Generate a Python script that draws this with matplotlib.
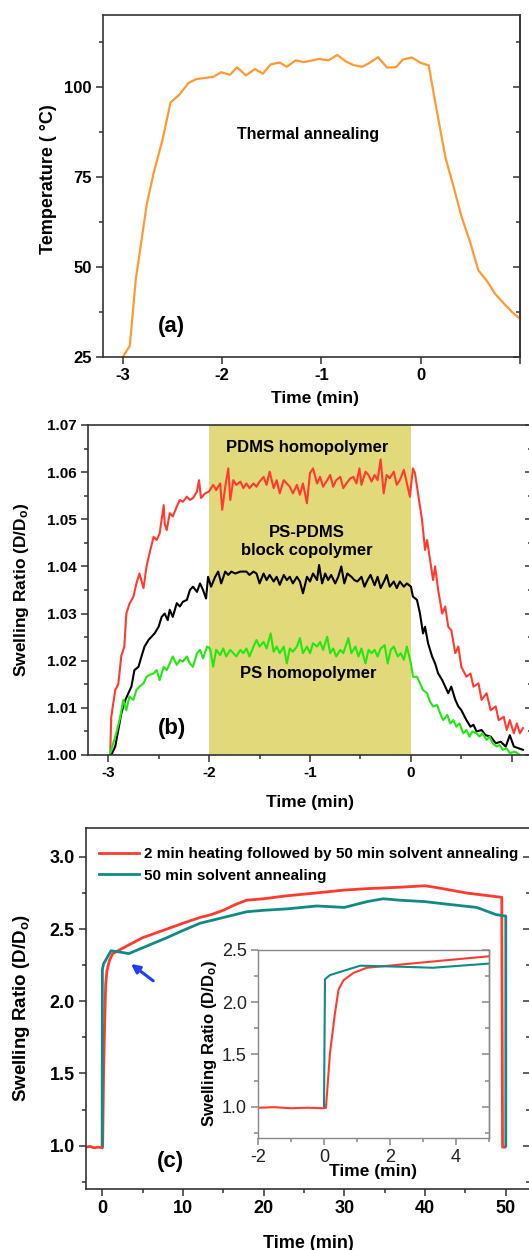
import matplotlib
matplotlib.use("Agg")
import matplotlib.pyplot as plt
from matplotlib.ticker import MultipleLocator, FormatStrFormatter

# ---------------- data ----------------
# (a) temperature
temp_t = [-3.0, -2.93, -2.87, -2.76, -2.69, -2.60, -2.52, -2.43, -2.34, -2.26,
          -2.09, -2.01, -1.92, -1.85, -1.76, -1.67, -1.59, -1.51, -1.42, -1.35,
          -1.26, -1.18, -1.02, -0.93, -0.84, -0.76, -0.68, -0.59, -0.51, -0.43,
          -0.34, -0.25, -0.18, -0.09, 0.0, 0.08, 0.16, 0.25, 0.33, 0.41,
          0.50, 0.58, 0.67, 0.75, 0.84, 0.92, 1.0]
temp_v = [25.0, 28.1, 46.5, 67.3, 76.1, 85.4, 95.7, 97.9, 101.1, 102.2,
          102.8, 104.1, 103.4, 105.5, 103.2, 105.0, 103.7, 106.3, 106.8, 105.6,
          107.4, 106.9, 107.8, 107.4, 108.9, 107.2, 106.1, 105.6, 106.8, 108.3,
          105.4, 105.5, 107.6, 108.2, 106.7, 106.0, 93.7, 80.3, 72.4, 64.1,
          56.7, 49.1, 46.0, 42.5, 39.8, 37.5, 35.6]

# (b) PDMS homopolymer (red)
pdms_t = [-2.98, -2.97, -2.93, -2.90, -2.87, -2.84, -2.82, -2.79, -2.75, -2.72,
          -2.69, -2.65, -2.62, -2.59, -2.55, -2.52, -2.49, -2.45, -2.44, -2.42,
          -2.39, -2.36, -2.32, -2.29, -2.26, -2.22, -2.19, -2.16, -2.12, -2.10,
          -2.08, -2.04, -2.00, -1.96, -1.93, -1.89, -1.87, -1.84, -1.81, -1.79,
          -1.76, -1.73, -1.69, -1.66, -1.63, -1.60, -1.56, -1.53, -1.50, -1.46,
          -1.43, -1.40, -1.36, -1.33, -1.30, -1.26, -1.23, -1.20, -1.17, -1.13,
          -1.10, -1.07, -1.03, -1.00, -0.97, -0.93, -0.90, -0.87, -0.83, -0.80,
          -0.77, -0.74, -0.70, -0.67, -0.64, -0.60, -0.57, -0.54, -0.51, -0.49,
          -0.45, -0.42, -0.39, -0.36, -0.33, -0.30, -0.27, -0.24, -0.21, -0.17,
          -0.14, -0.11, -0.07, -0.04, -0.01, 0.02, 0.04, 0.08, 0.11, 0.14,
          0.16, 0.19, 0.22, 0.24, 0.27, 0.31, 0.34, 0.37, 0.40, 0.44,
          0.47, 0.50, 0.55, 0.59, 0.62, 0.67, 0.70, 0.75, 0.79, 0.84,
          0.87, 0.92, 0.95, 0.98, 1.02, 1.05, 1.08, 1.11]
pdms_v = [1.000, 1.008, 1.0138, 1.015, 1.021, 1.023, 1.030, 1.032, 1.0336, 1.0364,
          1.0385, 1.0354, 1.040, 1.0428, 1.0463, 1.0456, 1.047, 1.053, 1.049, 1.0477,
          1.0513, 1.0506, 1.0527, 1.0541, 1.0537, 1.0548, 1.0541, 1.0545, 1.0559, 1.0583,
          1.0545, 1.0555, 1.0559, 1.0573, 1.0562, 1.0576, 1.052, 1.0569, 1.0608, 1.0541,
          1.0583, 1.0573, 1.058, 1.0566, 1.0576, 1.0566, 1.0576, 1.0569, 1.058, 1.059,
          1.0573, 1.0601, 1.0566, 1.0583, 1.0555, 1.0583, 1.0576, 1.0569, 1.0555, 1.0573,
          1.0552, 1.0576, 1.0534, 1.0598, 1.0608, 1.0576, 1.059, 1.0569, 1.0583, 1.0594,
          1.0569, 1.0583, 1.059, 1.0566, 1.0576, 1.0587, 1.059, 1.0576, 1.0608, 1.0573,
          1.0601, 1.0594, 1.058, 1.0594, 1.0583, 1.0627, 1.0555, 1.0594, 1.0587, 1.0601,
          1.0573, 1.0583, 1.0605, 1.0576, 1.0548, 1.0608, 1.0598, 1.0541, 1.0499, 1.0435,
          1.0456, 1.0414, 1.0371, 1.040, 1.035, 1.030, 1.0315, 1.0272, 1.0265, 1.0216,
          1.023, 1.0187, 1.0166, 1.0173, 1.0145, 1.0152, 1.0117, 1.0131, 1.0095, 1.0103,
          1.0074, 1.0081, 1.0053, 1.0074, 1.0046, 1.0067, 1.0046, 1.0057]

# (b) PS-PDMS block copolymer (black)
bcp_t = [-2.97, -2.93, -2.90, -2.87, -2.83, -2.80, -2.77, -2.74, -2.70, -2.67,
         -2.64, -2.60, -2.57, -2.54, -2.50, -2.47, -2.44, -2.41, -2.39, -2.36,
         -2.32, -2.29, -2.26, -2.22, -2.19, -2.16, -2.12, -2.09, -2.06, -2.03,
         -2.01, -1.98, -1.94, -1.91, -1.88, -1.84, -1.81, -1.78, -1.74, -1.69,
         -1.63, -1.60, -1.56, -1.53, -1.50, -1.46, -1.43, -1.40, -1.36, -1.33,
         -1.30, -1.26, -1.23, -1.20, -1.17, -1.13, -1.10, -1.07, -1.03, -1.00,
         -0.97, -0.93, -0.91, -0.88, -0.85, -0.82, -0.79, -0.75, -0.72, -0.69,
         -0.66, -0.63, -0.59, -0.56, -0.53, -0.49, -0.46, -0.43, -0.40, -0.36,
         -0.33, -0.30, -0.26, -0.24, -0.21, -0.17, -0.14, -0.11, -0.07, -0.04,
         0.00, 0.02, 0.06, 0.09, 0.12, 0.14, 0.17, 0.21, 0.24, 0.27,
         0.31, 0.34, 0.37, 0.40, 0.44, 0.47, 0.50, 0.55, 0.59, 0.62,
         0.65, 0.70, 0.74, 0.79, 0.84, 0.89, 0.94, 0.98, 1.02, 1.07,
         1.11]
bcp_v = [1.000, 1.0018, 1.0053, 1.0088, 1.0117, 1.0131, 1.0145, 1.018, 1.0187, 1.0209,
         1.023, 1.0244, 1.0251, 1.0258, 1.0272, 1.0293, 1.030, 1.0286, 1.0308, 1.0293,
         1.0322, 1.0315, 1.0325, 1.0329, 1.035, 1.0357, 1.0346, 1.0364, 1.035, 1.0332,
         1.0378, 1.0357, 1.0378, 1.0389, 1.0364, 1.0389, 1.0382, 1.0389, 1.0385, 1.0389,
         1.0389, 1.0382, 1.0389, 1.0385, 1.0364, 1.0385, 1.0371, 1.0382, 1.0368, 1.0378,
         1.0361, 1.0382, 1.0371, 1.0378, 1.0364, 1.0378, 1.0368, 1.0343, 1.0378, 1.0368,
         1.0385, 1.0371, 1.0403, 1.0364, 1.0385, 1.0371, 1.0382, 1.0364, 1.0378, 1.040,
         1.0364, 1.0385, 1.0378, 1.0371, 1.0368, 1.0378, 1.0357, 1.0371, 1.0382, 1.036,
         1.0378, 1.0354, 1.0371, 1.0382, 1.0357, 1.0368, 1.0354, 1.0368, 1.0357, 1.0364,
         1.0357, 1.0336, 1.0329, 1.030, 1.0258, 1.0272, 1.0237, 1.0209, 1.0194, 1.0173,
         1.0159, 1.0145, 1.0131, 1.0145, 1.0117, 1.0103, 1.0095, 1.0074, 1.006, 1.0064,
         1.005, 1.0053, 1.0042, 1.0039, 1.0025, 1.0028, 1.0018, 1.0042, 1.0018, 1.0014,
         1.0011]

# (b) PS homopolymer (green)
ps_t = [-2.98, -2.95, -2.92, -2.88, -2.85, -2.82, -2.79, -2.75, -2.72, -2.69,
        -2.65, -2.62, -2.59, -2.55, -2.52, -2.49, -2.45, -2.42, -2.39, -2.36,
        -2.32, -2.29, -2.26, -2.22, -2.19, -2.16, -2.12, -2.09, -2.06, -2.02,
        -1.99, -1.96, -1.93, -1.89, -1.86, -1.83, -1.79, -1.76, -1.73, -1.69,
        -1.66, -1.63, -1.60, -1.56, -1.53, -1.50, -1.46, -1.43, -1.39, -1.36,
        -1.33, -1.30, -1.26, -1.23, -1.20, -1.17, -1.13, -1.10, -1.07, -1.03,
        -1.00, -0.97, -0.93, -0.90, -0.87, -0.83, -0.80, -0.77, -0.74, -0.70,
        -0.67, -0.62, -0.59, -0.55, -0.52, -0.49, -0.45, -0.42, -0.39, -0.36,
        -0.33, -0.30, -0.26, -0.23, -0.20, -0.17, -0.13, -0.10, -0.07, -0.04,
        0.00, 0.02, 0.06, 0.09, 0.12, 0.16, 0.19, 0.22, 0.26, 0.29,
        0.32, 0.36, 0.39, 0.42, 0.45, 0.48, 0.52, 0.55, 0.58, 0.61,
        0.65, 0.68, 0.71, 0.75, 0.78, 0.81, 0.85, 0.88, 0.91, 0.95,
        0.98, 1.03, 1.08]
ps_v = [1.0004, 1.0025, 1.0046, 1.0081, 1.0117, 1.0095, 1.0124, 1.0117, 1.0138, 1.0145,
        1.0152, 1.0166, 1.017, 1.0173, 1.018, 1.0159, 1.0187, 1.018, 1.0194, 1.0209,
        1.0191, 1.0202, 1.0198, 1.0209, 1.0194, 1.0187, 1.0216, 1.0223, 1.0205, 1.023,
        1.0226, 1.0187, 1.0223, 1.0212, 1.0226, 1.0209, 1.0223, 1.0216, 1.0209, 1.0223,
        1.0216, 1.0226, 1.0209, 1.023, 1.0244, 1.023, 1.024, 1.0226, 1.0258, 1.0219,
        1.023, 1.0216, 1.023, 1.0194, 1.0226, 1.0219, 1.023, 1.0248, 1.0216, 1.023,
        1.0216, 1.0237, 1.023, 1.024, 1.0223, 1.0251, 1.0216, 1.0226, 1.0209, 1.0223,
        1.0216, 1.0248, 1.0216, 1.023, 1.0209, 1.0226, 1.0194, 1.0223, 1.0216, 1.0223,
        1.0209, 1.0226, 1.0233, 1.0194, 1.0223, 1.023, 1.0209, 1.0216, 1.0202, 1.023,
        1.0194, 1.0166, 1.0166, 1.0152, 1.0138, 1.0131, 1.0113, 1.0103, 1.0106, 1.0088,
        1.0074, 1.0085, 1.0067, 1.0074, 1.006, 1.0067, 1.0046, 1.0053, 1.0039, 1.005,
        1.0046, 1.0039, 1.0046, 1.0032, 1.0039, 1.0025, 1.0018, 1.0021, 1.0011, 1.0014,
        1.0004, 1.0007, 1.000]

# (c) 2 min heating followed by 50 min solvent annealing (red)
heat_t = [-2.0, -1.5, -1.0, -0.5, 0.0, 0.06, 0.18, 0.33, 0.44, 0.59,
          0.89, 1.3, 2.3, 3.3, 5.0, 6.5, 8.0, 10.0, 12.1, 13.5,
          15.0, 16.5, 17.9, 20.0, 22.8, 26.5, 30.0, 32.8, 36.9, 40.0,
          42.2, 45.1, 48.0, 49.5, 49.6, 49.9]
heat_v = [0.99, 0.995, 0.985, 0.99, 0.985, 0.99, 1.51, 1.89, 2.12, 2.21,
          2.28, 2.33, 2.36, 2.39, 2.44, 2.47, 2.50, 2.54, 2.58, 2.60,
          2.63, 2.67, 2.70, 2.71, 2.73, 2.75, 2.77, 2.78, 2.79, 2.80,
          2.78, 2.75, 2.73, 2.72, 0.99, 0.99]

# (c) 50 min solvent annealing (teal)
solv_t = [0.0, 0.03, 0.18, 0.69, 1.1, 2.3, 3.3, 5.0, 8.0, 10.0,
          12.1, 15.0, 17.9, 20.0, 22.9, 26.6, 30.0, 32.8, 34.8, 36.9,
          40.0, 43.1, 46.4, 48.8, 50.0, 50.0]
solv_v = [1.0, 2.22, 2.26, 2.31, 2.35, 2.34, 2.33, 2.37, 2.44, 2.49,
          2.54, 2.58, 2.62, 2.63, 2.64, 2.66, 2.65, 2.69, 2.71, 2.70,
          2.69, 2.67, 2.65, 2.60, 2.59, 1.0]

xticks_ab = [-3, -2, -1, 0, 1]
xticklabels_ab = ["-3", "-2", "-1", "0", ""]

# ---------------- style ----------------
plt.rcParams.update({
    "font.family": ["Liberation Sans", "DejaVu Sans"],
    "font.weight": "bold",
    "axes.labelweight": "bold",
    "axes.unicode_minus": False,
    "mathtext.fontset": "custom",
    "mathtext.rm": "Liberation Sans:bold",
    "mathtext.bf": "Liberation Sans:bold",
    "mathtext.it": "Liberation Sans:bold",
    "mathtext.default": "bf",
})

SP = "#333333"


def style(ax, ymaj, ymin, xmin=None, fs=11, color=SP, lw=1.2, labelweight="bold"):
    for s in ax.spines.values():
        s.set_linewidth(lw)
        s.set_color(color)
    ax.yaxis.set_major_locator(MultipleLocator(ymaj))
    ax.yaxis.set_minor_locator(MultipleLocator(ymin))
    if xmin:
        ax.xaxis.set_minor_locator(MultipleLocator(xmin))
    ax.tick_params(which="both", direction="out", top=False, right=False,
                   width=1.1, color=color, labelsize=fs, pad=3)
    ax.tick_params(which="major", length=5)
    ax.tick_params(which="minor", length=3)
    for lab in ax.get_xticklabels() + ax.get_yticklabels():
        lab.set_fontweight(labelweight)
    sec = ax.secondary_yaxis("right")
    sec.yaxis.set_major_locator(MultipleLocator(ymaj))
    sec.yaxis.set_minor_locator(MultipleLocator(ymin))
    sec.tick_params(which="both", direction="in", labelright=False,
                    width=1.1, color=color)
    sec.tick_params(which="major", length=5)
    sec.tick_params(which="minor", length=3)
    sec.spines["right"].set_linewidth(lw)
    sec.spines["right"].set_color(color)
    return sec


fig = plt.figure(figsize=(5.29, 12.5), dpi=100)

# ---------------- (a) ----------------
axa = fig.add_axes([103 / 529, 1 - 357 / 1250, 417 / 529, 342 / 1250])
axa.plot(temp_t, temp_v, color="#ff9933", lw=1.6)
axa.set_xlim(-3.2, 1.0)
axa.set_ylim(25, 120)
axa.set_xticks(xticks_ab)
axa.set_xticklabels(xticklabels_ab)
style(axa, 25, 12.5, fs=12)
axa.set_xlabel("Time (min)", fontsize=12.5)
axa.set_ylabel("Temperature ( °C)", fontsize=13)
axa.xaxis.set_label_coords(0.508, -0.10)
axa.yaxis.set_label_coords(-0.110, 0.52)
axa.text(-1.13, 86.8, "Thermal annealing", fontsize=11.5, ha="center", va="center")
axa.text(-2.51, 33.5, "(a)", fontsize=16, ha="center", va="center")

# ---------------- (b) ----------------
axb = fig.add_axes([88 / 529, 1 - 755 / 1250, 444 / 529, 330 / 1250])
axb.axvspan(-2, 0, color="#e2d97b", zorder=0, lw=0)
axb.plot(pdms_t, pdms_v, color="#ff3b30", lw=1.5)
axb.plot(bcp_t, bcp_v, color="black", lw=1.5)
axb.plot(ps_t, ps_v, color="#22e810", lw=1.5)
axb.set_xlim(-3.2, 1.2)
axb.set_ylim(1.0, 1.07)
axb.set_xticks(xticks_ab)
axb.set_xticklabels(xticklabels_ab)
axb.yaxis.set_major_formatter(FormatStrFormatter("%.2f"))
style(axb, 0.01, 0.005, xmin=0.5, fs=11)
axb.set_xlabel("Time (min)", fontsize=12.5)
axb.set_ylabel("Swelling Ratio (D/D$_o$)", fontsize=12.5)
axb.xaxis.set_label_coords(0.5, -0.121)
axb.yaxis.set_label_coords(-0.128, 0.5)
axb.text(-1.03, 1.0652, "PDMS homopolymer", fontsize=12, ha="center", va="center")
axb.text(-1.03, 1.0453, "PS-PDMS\nblock copolymer", fontsize=12, ha="center",
         va="center", linespacing=1.3)
axb.text(-1.02, 1.0172, "PS homopolymer", fontsize=12, ha="center", va="center")
axb.text(-2.37, 1.0057, "(b)", fontsize=16, ha="center", va="center")

# ---------------- (c) ----------------
axc = fig.add_axes([86 / 529, 1 - 1189 / 1250, 444 / 529, 361 / 1250])
axc.plot(heat_t, heat_v, color="#ff3b30", lw=2.0,
         label="2 min heating followed by 50 min solvent annealing")
axc.plot(solv_t, solv_v, color="#128a84", lw=2.0, label="50 min solvent annealing")
axc.set_xlim(-2, 53)
axc.set_ylim(0.7, 3.2)
axc.xaxis.set_major_locator(MultipleLocator(10))
axc.yaxis.set_major_formatter(FormatStrFormatter("%.1f"))
style(axc, 0.5, 0.25, xmin=5, fs=13)
axc.set_xlabel("Time (min)", fontsize=13)
axc.set_ylabel("Swelling Ratio (D/D$_o$)", fontsize=13.5)
axc.xaxis.set_label_coords(0.5, -0.128)
axc.yaxis.set_label_coords(-0.122, 0.5)
axc.legend(loc="upper left", bbox_to_anchor=(0.012, 0.968), frameon=False,
           fontsize=11, handlelength=2.6, handletextpad=0.35, labelspacing=0.5,
           borderaxespad=0.2, borderpad=0.3)
axc.text(8.5, 0.89, "(c)", fontsize=16, ha="center", va="center")
axc.annotate("", xy=(3.3, 2.27), xytext=(6.6, 2.13),
             arrowprops=dict(arrowstyle="-|>,head_length=0.5,head_width=0.25",
                             color="#1f3dff", lw=2.2))

# inset
axi = fig.add_axes([258 / 529, 1 - 1138 / 1250, 231 / 529, 188 / 1250])
axi.plot(heat_t, heat_v, color="#ff3b30", lw=1.5)
axi.plot(solv_t, solv_v, color="#128a84", lw=1.5)
axi.set_xlim(-2, 5)
axi.set_ylim(0.7, 2.5)
axi.xaxis.set_major_locator(MultipleLocator(2))
axi.yaxis.set_major_formatter(FormatStrFormatter("%.1f"))
style(axi, 0.5, 0.25, xmin=1, fs=13, color="#888888", lw=1.0,
      labelweight="normal")
axi.tick_params(which="both", labelcolor="#222222")
axi.set_xlabel("Time (min)", fontsize=12.5)
axi.set_ylabel("Swelling Ratio (D/D$_o$)", fontsize=12)
axi.xaxis.set_label_coords(0.498, -0.138)
axi.yaxis.set_label_coords(-0.169, 0.5)

fig.savefig("out.png", dpi=100)
